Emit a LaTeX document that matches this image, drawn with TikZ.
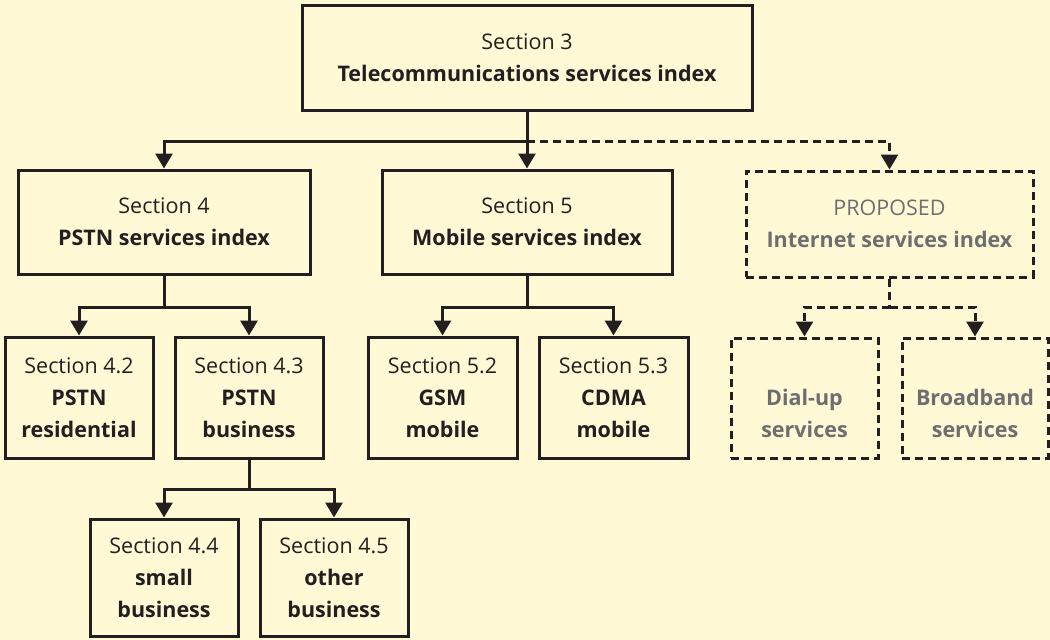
\documentclass[tikz,border=0pt]{standalone}
\usepackage{fontspec}
\setmainfont{Open Sans}
\usetikzlibrary{arrows.meta}
\definecolor{bg}{RGB}{255,250,213}
\definecolor{ink}{RGB}{35,31,32}
\definecolor{grey}{RGB}{109,110,112}
\tikzset{
  box/.style={draw=ink, line width=3pt, fill=bg, inner sep=0pt, align=center,
    text=ink, font=\fontsize{21.5}{32}\selectfont},
  pbox/.style={box, dashed, dash pattern=on 8pt off 5pt, text=grey},
  conn/.style={draw=ink, line width=3pt},
  arr/.style={conn, -{Triangle[width=17pt,length=15pt]}},
  darr/.style={arr, dash pattern=on 8pt off 5pt},
}
\begin{document}
\begin{tikzpicture}[x=1pt,y=-1pt]
\fill[bg] (0,0) rectangle (1050,640);
\useasboundingbox (0,0) rectangle (1050,640);
% level 1
\node[box, minimum width=450pt, minimum height=105pt] (top) at (527,57.5) {Section 3\\\textbf{Telecommunications services index}};
% level 2
\node[box, minimum width=292pt, minimum height=104pt] (pstn) at (164,222) {Section 4\\\textbf{PSTN services index}};
\node[box, minimum width=290pt, minimum height=104pt] (mob) at (527,222) {Section 5\\\textbf{Mobile services index}};
\node[pbox, minimum width=287pt, minimum height=106pt] (inet) at (889.5,224) {PROPOSED\\\textbf{Internet services index}};
% level 3
\node[box, minimum width=148pt, minimum height=121pt] (s42) at (79,397.5) {Section 4.2\\\textbf{PSTN}\\\textbf{residential}};
\node[box, minimum width=148pt, minimum height=121pt] (s43) at (249,397.5) {Section 4.3\\\textbf{PSTN}\\\textbf{business}};
\node[box, minimum width=149pt, minimum height=121pt] (gsm) at (442.5,397.5) {Section 5.2\\\textbf{GSM}\\\textbf{mobile}};
\node[box, minimum width=149pt, minimum height=121pt] (cdma) at (613.5,397.5) {Section 5.3\\\textbf{CDMA}\\\textbf{mobile}};
\node[pbox, minimum width=147pt, minimum height=120pt] (dial) at (804.5,398) {\strut\\[-8pt]\textbf{Dial-up}\\\textbf{services}};
\node[pbox, minimum width=146pt, minimum height=120pt] (broad) at (975,398) {\strut\\[-8pt]\textbf{Broadband}\\\textbf{services}};
% level 4
\node[box, minimum width=148pt, minimum height=117pt] (s44) at (164,577.5) {Section 4.4\\\textbf{small}\\\textbf{business}};
\node[box, minimum width=148pt, minimum height=117pt] (s45) at (334,577.5) {Section 4.5\\\textbf{other}\\\textbf{business}};
% junctions
\coordinate (j1) at (top.south |- 0,141);
\coordinate (j2) at (pstn.south |- 0,307);
\coordinate (j3) at (mob.south |- 0,307);
\coordinate (j4) at (inet.south |- 0,307);
\coordinate (j5) at (s43.south |- 0,489);
% connectors
\draw[conn] (top.south) -- (j1);
\draw[arr] (j1) -| (pstn.north);
\draw[arr] (j1) -- (mob.north);
\draw[darr] (j1) -| (inet.north);
\draw[conn] (pstn.south) -- (j2);
\draw[arr] (j2) -| (s42.north);
\draw[arr] (j2) -| (s43.north);
\draw[conn] (mob.south) -- (j3);
\draw[arr] (j3) -| (gsm.north);
\draw[arr] (j3) -| (cdma.north);
\draw[conn, dash pattern=on 8pt off 5pt] (inet.south) -- (j4);
\draw[darr] (j4) -| (dial.north);
\draw[darr] (j4) -| (broad.north);
\draw[conn] (s43.south) -- (j5);
\draw[arr] (j5) -| (s44.north);
\draw[arr] (j5) -| (s45.north);
\end{tikzpicture}
\end{document}
